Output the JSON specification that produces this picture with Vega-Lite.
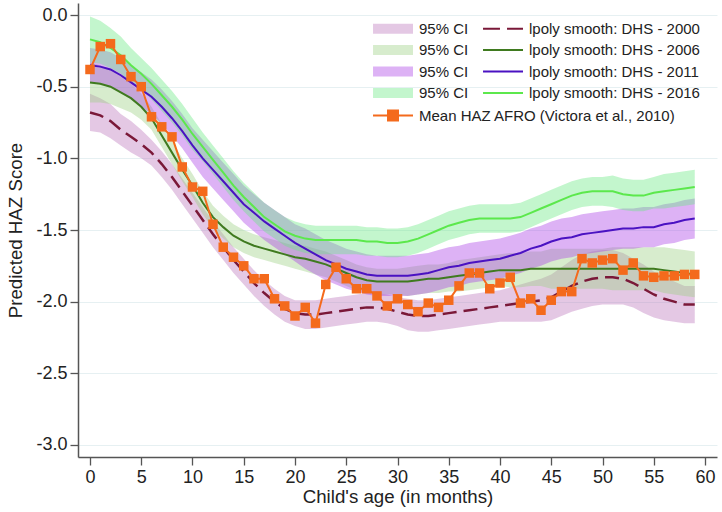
{
  "$schema": "https://vega.github.io/schema/vega-lite/v6.json",
  "width": 639,
  "height": 454,
  "autosize": {"type": "none"},
  "padding": {"left": 78, "top": 3, "right": 5, "bottom": 55},
  "background": "white",
  "config": {
    "font": "Liberation Sans",
    "view": {"stroke": null},
    "axis": {"labelFont": "Liberation Sans", "labelFontSize": 18, "labelColor": "#222", "titleFont": "Liberation Sans", "titleFontSize": 18.7, "titleFontWeight": "normal", "titleColor": "#222", "domainColor": "#555", "domainWidth": 1.5, "tickColor": "#555", "tickWidth": 1.3, "tickSize": 8, "labelPadding": 3, "gridColor": "#e6f0f2", "gridWidth": 1, "labelFlush": false, "labelOverlap": false},
    "axisX": {"grid": false, "titlePadding": 1},
    "axisY": {"grid": true, "titlePadding": 10}
  },
  "datasets": {
    "d2000": [
      {"age":0,"est":-0.68,"lo":-0.81,"hi":-0.55},{"age":1,"est":-0.70,"lo":-0.82,"hi":-0.58},{"age":2,"est":-0.74,"lo":-0.86,"hi":-0.62},{"age":3,"est":-0.80,"lo":-0.91,"hi":-0.69},{"age":4,"est":-0.85,"lo":-0.96,"hi":-0.74},{"age":5,"est":-0.90,"lo":-1.00,"hi":-0.80},{"age":6,"est":-0.96,"lo":-1.05,"hi":-0.87},{"age":7,"est":-1.04,"lo":-1.13,"hi":-0.95},{"age":8,"est":-1.13,"lo":-1.22,"hi":-1.04},{"age":9,"est":-1.23,"lo":-1.32,"hi":-1.14},
      {"age":10,"est":-1.33,"lo":-1.42,"hi":-1.24},{"age":11,"est":-1.43,"lo":-1.52,"hi":-1.34},{"age":12,"est":-1.53,"lo":-1.62,"hi":-1.44},{"age":13,"est":-1.62,"lo":-1.71,"hi":-1.53},{"age":14,"est":-1.71,"lo":-1.80,"hi":-1.62},{"age":15,"est":-1.79,"lo":-1.88,"hi":-1.70},{"age":16,"est":-1.87,"lo":-1.96,"hi":-1.78},{"age":17,"est":-1.94,"lo":-2.03,"hi":-1.85},{"age":18,"est":-2.00,"lo":-2.09,"hi":-1.91},{"age":19,"est":-2.05,"lo":-2.14,"hi":-1.96},
      {"age":20,"est":-2.08,"lo":-2.17,"hi":-1.99},{"age":21,"est":-2.09,"lo":-2.19,"hi":-1.99},{"age":22,"est":-2.09,"lo":-2.19,"hi":-1.99},{"age":23,"est":-2.08,"lo":-2.18,"hi":-1.98},{"age":24,"est":-2.07,"lo":-2.17,"hi":-1.97},{"age":25,"est":-2.06,"lo":-2.16,"hi":-1.96},{"age":26,"est":-2.05,"lo":-2.15,"hi":-1.95},{"age":27,"est":-2.04,"lo":-2.14,"hi":-1.94},{"age":28,"est":-2.04,"lo":-2.14,"hi":-1.94},{"age":29,"est":-2.05,"lo":-2.15,"hi":-1.95},
      {"age":30,"est":-2.07,"lo":-2.17,"hi":-1.97},{"age":31,"est":-2.09,"lo":-2.20,"hi":-1.98},{"age":32,"est":-2.10,"lo":-2.21,"hi":-1.99},{"age":33,"est":-2.10,"lo":-2.21,"hi":-1.99},{"age":34,"est":-2.09,"lo":-2.20,"hi":-1.98},{"age":35,"est":-2.08,"lo":-2.19,"hi":-1.97},{"age":36,"est":-2.07,"lo":-2.18,"hi":-1.96},{"age":37,"est":-2.06,"lo":-2.17,"hi":-1.95},{"age":38,"est":-2.05,"lo":-2.16,"hi":-1.94},{"age":39,"est":-2.04,"lo":-2.15,"hi":-1.93},
      {"age":40,"est":-2.03,"lo":-2.14,"hi":-1.92},{"age":41,"est":-2.02,"lo":-2.14,"hi":-1.90},{"age":42,"est":-2.01,"lo":-2.14,"hi":-1.88},{"age":43,"est":-2.00,"lo":-2.14,"hi":-1.86},{"age":44,"est":-1.99,"lo":-2.14,"hi":-1.84},{"age":45,"est":-1.97,"lo":-2.13,"hi":-1.81},{"age":46,"est":-1.93,"lo":-2.10,"hi":-1.76},{"age":47,"est":-1.89,"lo":-2.07,"hi":-1.71},{"age":48,"est":-1.86,"lo":-2.05,"hi":-1.67},{"age":49,"est":-1.84,"lo":-2.03,"hi":-1.65},
      {"age":50,"est":-1.83,"lo":-2.02,"hi":-1.64},{"age":51,"est":-1.83,"lo":-2.02,"hi":-1.64},{"age":52,"est":-1.84,"lo":-2.02,"hi":-1.66},{"age":53,"est":-1.87,"lo":-2.04,"hi":-1.70},{"age":54,"est":-1.91,"lo":-2.08,"hi":-1.74},{"age":55,"est":-1.95,"lo":-2.11,"hi":-1.79},{"age":56,"est":-1.98,"lo":-2.13,"hi":-1.83},{"age":57,"est":-2.00,"lo":-2.14,"hi":-1.86},{"age":58,"est":-2.02,"lo":-2.15,"hi":-1.89},{"age":59,"est":-2.02,"lo":-2.15,"hi":-1.89}
    ],
    "d2006": [
      {"age":0,"est":-0.47,"lo":-0.61,"hi":-0.33},{"age":1,"est":-0.48,"lo":-0.61,"hi":-0.35},{"age":2,"est":-0.50,"lo":-0.62,"hi":-0.38},{"age":3,"est":-0.54,"lo":-0.65,"hi":-0.43},{"age":4,"est":-0.58,"lo":-0.68,"hi":-0.48},{"age":5,"est":-0.64,"lo":-0.73,"hi":-0.55},{"age":6,"est":-0.72,"lo":-0.80,"hi":-0.64},{"age":7,"est":-0.84,"lo":-0.92,"hi":-0.76},{"age":8,"est":-0.96,"lo":-1.04,"hi":-0.88},{"age":9,"est":-1.08,"lo":-1.16,"hi":-1.00},
      {"age":10,"est":-1.19,"lo":-1.27,"hi":-1.11},{"age":11,"est":-1.31,"lo":-1.39,"hi":-1.23},{"age":12,"est":-1.41,"lo":-1.49,"hi":-1.33},{"age":13,"est":-1.48,"lo":-1.56,"hi":-1.40},{"age":14,"est":-1.54,"lo":-1.62,"hi":-1.46},{"age":15,"est":-1.58,"lo":-1.66,"hi":-1.50},{"age":16,"est":-1.61,"lo":-1.69,"hi":-1.53},{"age":17,"est":-1.63,"lo":-1.71,"hi":-1.55},{"age":18,"est":-1.65,"lo":-1.73,"hi":-1.57},{"age":19,"est":-1.67,"lo":-1.75,"hi":-1.59},
      {"age":20,"est":-1.69,"lo":-1.77,"hi":-1.61},{"age":21,"est":-1.70,"lo":-1.79,"hi":-1.61},{"age":22,"est":-1.72,"lo":-1.81,"hi":-1.63},{"age":23,"est":-1.74,"lo":-1.83,"hi":-1.65},{"age":24,"est":-1.77,"lo":-1.86,"hi":-1.68},{"age":25,"est":-1.80,"lo":-1.89,"hi":-1.71},{"age":26,"est":-1.83,"lo":-1.92,"hi":-1.74},{"age":27,"est":-1.85,"lo":-1.94,"hi":-1.76},{"age":28,"est":-1.86,"lo":-1.95,"hi":-1.77},{"age":29,"est":-1.86,"lo":-1.95,"hi":-1.77},
      {"age":30,"est":-1.86,"lo":-1.95,"hi":-1.77},{"age":31,"est":-1.86,"lo":-1.96,"hi":-1.76},{"age":32,"est":-1.85,"lo":-1.95,"hi":-1.75},{"age":33,"est":-1.84,"lo":-1.94,"hi":-1.74},{"age":34,"est":-1.84,"lo":-1.94,"hi":-1.74},{"age":35,"est":-1.83,"lo":-1.93,"hi":-1.73},{"age":36,"est":-1.82,"lo":-1.93,"hi":-1.71},{"age":37,"est":-1.81,"lo":-1.92,"hi":-1.70},{"age":38,"est":-1.80,"lo":-1.91,"hi":-1.69},{"age":39,"est":-1.79,"lo":-1.90,"hi":-1.68},
      {"age":40,"est":-1.78,"lo":-1.89,"hi":-1.67},{"age":41,"est":-1.78,"lo":-1.90,"hi":-1.66},{"age":42,"est":-1.78,"lo":-1.90,"hi":-1.66},{"age":43,"est":-1.77,"lo":-1.89,"hi":-1.65},{"age":44,"est":-1.77,"lo":-1.89,"hi":-1.65},{"age":45,"est":-1.77,"lo":-1.91,"hi":-1.63},{"age":46,"est":-1.77,"lo":-1.91,"hi":-1.63},{"age":47,"est":-1.77,"lo":-1.91,"hi":-1.63},{"age":48,"est":-1.77,"lo":-1.91,"hi":-1.63},{"age":49,"est":-1.77,"lo":-1.91,"hi":-1.63},
      {"age":50,"est":-1.77,"lo":-1.91,"hi":-1.63},{"age":51,"est":-1.77,"lo":-1.92,"hi":-1.62},{"age":52,"est":-1.77,"lo":-1.92,"hi":-1.62},{"age":53,"est":-1.77,"lo":-1.92,"hi":-1.62},{"age":54,"est":-1.77,"lo":-1.92,"hi":-1.62},{"age":55,"est":-1.77,"lo":-1.92,"hi":-1.62},{"age":56,"est":-1.78,"lo":-1.94,"hi":-1.62},{"age":57,"est":-1.79,"lo":-1.95,"hi":-1.63},{"age":58,"est":-1.80,"lo":-1.96,"hi":-1.64},{"age":59,"est":-1.81,"lo":-1.97,"hi":-1.65}
    ],
    "d2011": [
      {"age":0,"est":-0.35,"lo":-0.47,"hi":-0.23},{"age":1,"est":-0.36,"lo":-0.48,"hi":-0.24},{"age":2,"est":-0.38,"lo":-0.50,"hi":-0.26},{"age":3,"est":-0.42,"lo":-0.54,"hi":-0.30},{"age":4,"est":-0.47,"lo":-0.59,"hi":-0.35},{"age":5,"est":-0.52,"lo":-0.64,"hi":-0.40},{"age":6,"est":-0.57,"lo":-0.69,"hi":-0.45},{"age":7,"est":-0.64,"lo":-0.76,"hi":-0.52},{"age":8,"est":-0.72,"lo":-0.84,"hi":-0.60},{"age":9,"est":-0.81,"lo":-0.93,"hi":-0.69},
      {"age":10,"est":-0.91,"lo":-1.03,"hi":-0.79},{"age":11,"est":-1.00,"lo":-1.13,"hi":-0.87},{"age":12,"est":-1.08,"lo":-1.21,"hi":-0.95},{"age":13,"est":-1.16,"lo":-1.29,"hi":-1.03},{"age":14,"est":-1.24,"lo":-1.37,"hi":-1.11},{"age":15,"est":-1.32,"lo":-1.45,"hi":-1.19},{"age":16,"est":-1.38,"lo":-1.51,"hi":-1.25},{"age":17,"est":-1.44,"lo":-1.57,"hi":-1.31},{"age":18,"est":-1.49,"lo":-1.62,"hi":-1.36},{"age":19,"est":-1.54,"lo":-1.67,"hi":-1.41},
      {"age":20,"est":-1.59,"lo":-1.72,"hi":-1.46},{"age":21,"est":-1.63,"lo":-1.77,"hi":-1.49},{"age":22,"est":-1.67,"lo":-1.81,"hi":-1.53},{"age":23,"est":-1.71,"lo":-1.85,"hi":-1.57},{"age":24,"est":-1.74,"lo":-1.88,"hi":-1.60},{"age":25,"est":-1.77,"lo":-1.91,"hi":-1.63},{"age":26,"est":-1.79,"lo":-1.93,"hi":-1.65},{"age":27,"est":-1.81,"lo":-1.95,"hi":-1.67},{"age":28,"est":-1.82,"lo":-1.96,"hi":-1.68},{"age":29,"est":-1.82,"lo":-1.96,"hi":-1.68},
      {"age":30,"est":-1.82,"lo":-1.96,"hi":-1.68},{"age":31,"est":-1.82,"lo":-1.96,"hi":-1.68},{"age":32,"est":-1.81,"lo":-1.95,"hi":-1.67},{"age":33,"est":-1.80,"lo":-1.94,"hi":-1.66},{"age":34,"est":-1.78,"lo":-1.92,"hi":-1.64},{"age":35,"est":-1.76,"lo":-1.90,"hi":-1.62},{"age":36,"est":-1.75,"lo":-1.89,"hi":-1.61},{"age":37,"est":-1.73,"lo":-1.87,"hi":-1.59},{"age":38,"est":-1.72,"lo":-1.86,"hi":-1.58},{"age":39,"est":-1.71,"lo":-1.85,"hi":-1.57},
      {"age":40,"est":-1.70,"lo":-1.84,"hi":-1.56},{"age":41,"est":-1.68,"lo":-1.82,"hi":-1.54},{"age":42,"est":-1.66,"lo":-1.80,"hi":-1.52},{"age":43,"est":-1.63,"lo":-1.77,"hi":-1.49},{"age":44,"est":-1.61,"lo":-1.75,"hi":-1.47},{"age":45,"est":-1.58,"lo":-1.72,"hi":-1.44},{"age":46,"est":-1.56,"lo":-1.70,"hi":-1.42},{"age":47,"est":-1.55,"lo":-1.69,"hi":-1.41},{"age":48,"est":-1.53,"lo":-1.67,"hi":-1.39},{"age":49,"est":-1.52,"lo":-1.66,"hi":-1.38},
      {"age":50,"est":-1.51,"lo":-1.65,"hi":-1.37},{"age":51,"est":-1.50,"lo":-1.64,"hi":-1.36},{"age":52,"est":-1.49,"lo":-1.63,"hi":-1.35},{"age":53,"est":-1.49,"lo":-1.63,"hi":-1.35},{"age":54,"est":-1.48,"lo":-1.62,"hi":-1.34},{"age":55,"est":-1.48,"lo":-1.62,"hi":-1.34},{"age":56,"est":-1.46,"lo":-1.60,"hi":-1.32},{"age":57,"est":-1.45,"lo":-1.59,"hi":-1.31},{"age":58,"est":-1.43,"lo":-1.57,"hi":-1.29},{"age":59,"est":-1.42,"lo":-1.56,"hi":-1.28}
    ],
    "d2016": [
      {"age":0,"est":-0.17,"lo":-0.33,"hi":-0.01},{"age":1,"est":-0.19,"lo":-0.34,"hi":-0.04},{"age":2,"est":-0.23,"lo":-0.37,"hi":-0.09},{"age":3,"est":-0.28,"lo":-0.41,"hi":-0.15},{"age":4,"est":-0.35,"lo":-0.47,"hi":-0.23},{"age":5,"est":-0.41,"lo":-0.52,"hi":-0.30},{"age":6,"est":-0.48,"lo":-0.59,"hi":-0.37},{"age":7,"est":-0.56,"lo":-0.67,"hi":-0.45},{"age":8,"est":-0.64,"lo":-0.75,"hi":-0.53},{"age":9,"est":-0.73,"lo":-0.84,"hi":-0.62},
      {"age":10,"est":-0.83,"lo":-0.94,"hi":-0.72},{"age":11,"est":-0.92,"lo":-1.02,"hi":-0.82},{"age":12,"est":-1.01,"lo":-1.11,"hi":-0.91},{"age":13,"est":-1.10,"lo":-1.20,"hi":-1.00},{"age":14,"est":-1.19,"lo":-1.29,"hi":-1.09},{"age":15,"est":-1.27,"lo":-1.37,"hi":-1.17},{"age":16,"est":-1.34,"lo":-1.44,"hi":-1.24},{"age":17,"est":-1.41,"lo":-1.51,"hi":-1.31},{"age":18,"est":-1.46,"lo":-1.56,"hi":-1.36},{"age":19,"est":-1.51,"lo":-1.61,"hi":-1.41},
      {"age":20,"est":-1.54,"lo":-1.64,"hi":-1.44},{"age":21,"est":-1.56,"lo":-1.66,"hi":-1.46},{"age":22,"est":-1.57,"lo":-1.67,"hi":-1.47},{"age":23,"est":-1.57,"lo":-1.67,"hi":-1.47},{"age":24,"est":-1.57,"lo":-1.67,"hi":-1.47},{"age":25,"est":-1.57,"lo":-1.67,"hi":-1.47},{"age":26,"est":-1.57,"lo":-1.67,"hi":-1.47},{"age":27,"est":-1.58,"lo":-1.68,"hi":-1.48},{"age":28,"est":-1.58,"lo":-1.68,"hi":-1.48},{"age":29,"est":-1.59,"lo":-1.69,"hi":-1.49},
      {"age":30,"est":-1.59,"lo":-1.69,"hi":-1.49},{"age":31,"est":-1.58,"lo":-1.68,"hi":-1.48},{"age":32,"est":-1.56,"lo":-1.66,"hi":-1.46},{"age":33,"est":-1.53,"lo":-1.63,"hi":-1.43},{"age":34,"est":-1.50,"lo":-1.60,"hi":-1.40},{"age":35,"est":-1.47,"lo":-1.57,"hi":-1.37},{"age":36,"est":-1.45,"lo":-1.55,"hi":-1.35},{"age":37,"est":-1.43,"lo":-1.53,"hi":-1.33},{"age":38,"est":-1.42,"lo":-1.52,"hi":-1.32},{"age":39,"est":-1.42,"lo":-1.52,"hi":-1.32},
      {"age":40,"est":-1.42,"lo":-1.52,"hi":-1.32},{"age":41,"est":-1.42,"lo":-1.52,"hi":-1.32},{"age":42,"est":-1.41,"lo":-1.51,"hi":-1.31},{"age":43,"est":-1.38,"lo":-1.48,"hi":-1.28},{"age":44,"est":-1.35,"lo":-1.45,"hi":-1.25},{"age":45,"est":-1.32,"lo":-1.42,"hi":-1.22},{"age":46,"est":-1.29,"lo":-1.39,"hi":-1.19},{"age":47,"est":-1.26,"lo":-1.36,"hi":-1.16},{"age":48,"est":-1.24,"lo":-1.34,"hi":-1.14},{"age":49,"est":-1.23,"lo":-1.33,"hi":-1.13},
      {"age":50,"est":-1.23,"lo":-1.33,"hi":-1.13},{"age":51,"est":-1.23,"lo":-1.34,"hi":-1.12},{"age":52,"est":-1.25,"lo":-1.36,"hi":-1.14},{"age":53,"est":-1.26,"lo":-1.37,"hi":-1.15},{"age":54,"est":-1.26,"lo":-1.37,"hi":-1.15},{"age":55,"est":-1.24,"lo":-1.35,"hi":-1.13},{"age":56,"est":-1.23,"lo":-1.35,"hi":-1.11},{"age":57,"est":-1.22,"lo":-1.34,"hi":-1.10},{"age":58,"est":-1.21,"lo":-1.33,"hi":-1.09},{"age":59,"est":-1.20,"lo":-1.32,"hi":-1.08}
    ],
    "haz": [
      {"age":0,"est":-0.38},{"age":1,"est":-0.22},{"age":2,"est":-0.20},{"age":3,"est":-0.31},{"age":4,"est":-0.43},{"age":5,"est":-0.50},{"age":6,"est":-0.71},{"age":7,"est":-0.78},{"age":8,"est":-0.85},{"age":9,"est":-1.06},
      {"age":10,"est":-1.20},{"age":11,"est":-1.23},{"age":12,"est":-1.46},{"age":13,"est":-1.62},{"age":14,"est":-1.69},{"age":15,"est":-1.75},{"age":16,"est":-1.84},{"age":17,"est":-1.84},{"age":18,"est":-1.98},{"age":19,"est":-2.03},
      {"age":20,"est":-2.10},{"age":21,"est":-2.04},{"age":22,"est":-2.15},{"age":23,"est":-1.88},{"age":24,"est":-1.76},{"age":25,"est":-1.84},{"age":26,"est":-1.91},{"age":27,"est":-1.91},{"age":28,"est":-1.96},{"age":29,"est":-2.03},
      {"age":30,"est":-1.98},{"age":31,"est":-2.02},{"age":32,"est":-2.07},{"age":33,"est":-2.01},{"age":34,"est":-2.04},{"age":35,"est":-1.99},{"age":36,"est":-1.89},{"age":37,"est":-1.80},{"age":38,"est":-1.80},{"age":39,"est":-1.91},
      {"age":40,"est":-1.87},{"age":41,"est":-1.83},{"age":42,"est":-2.01},{"age":43,"est":-1.98},{"age":44,"est":-2.06},{"age":45,"est":-1.99},{"age":46,"est":-1.93},{"age":47,"est":-1.93},{"age":48,"est":-1.70},{"age":49,"est":-1.73},
      {"age":50,"est":-1.71},{"age":51,"est":-1.70},{"age":52,"est":-1.78},{"age":53,"est":-1.73},{"age":54,"est":-1.82},{"age":55,"est":-1.83},{"age":56,"est":-1.82},{"age":57,"est":-1.82},{"age":58,"est":-1.81},{"age":59,"est":-1.81}
    ]
  },
  "encoding": {
    "x": {"field": "age", "type": "quantitative", "scale": {"domain": [-1.17, 61.17], "nice": false, "zero": false}, "axis": {"values": [0,5,10,15,20,25,30,35,40,45,50,55,60], "title": "Child's age (in months)"}}
  },
  "layer": [
    {
      "data": {"name": "d2000"},
      "mark": {"type": "area", "fillOpacity": 0.4},
      "encoding": {
        "y": {"field": "lo", "type": "quantitative", "scale": {"domain": [-3.084, 0.084], "nice": false, "zero": false}, "axis": {"values": [-3,-2.5,-2,-1.5,-1,-0.5,0], "labelExpr": "replace(format(datum.value, '.1f'), '\u2212', '-')", "title": "Predicted HAZ Score"}},
        "y2": {"field": "hi"},
        "color": {
          "datum": "ci2000", "type": "nominal",
          "scale": {"domain": ["ci2000","ln2000","ci2006","ln2006","ci2011","ln2011","ci2016","ln2016"], "range": ["#bc76bc","#7a1838","#9bcf82","#3f7a1f","#aa3ee6","#4a12c2","#69e882","#5ce84c"]},
          "legend": {
            "title": null,
            "orient": "none",
            "legendX": 295,
            "legendY": 17,
            "direction": "horizontal",
            "padding": 0,
            "columns": 2,
            "columnPadding": 10,
            "rowPadding": 4.5,
            "symbolSize": 225,
            "labelOffset": 29,
            "labelFont": "Liberation Sans",
            "labelFontSize": 15,
            "labelColor": "#222",
            "labelLimit": 400,
            "labelExpr": "indexof(datum.value, 'ci') === 0 ? '95% CI' : 'lpoly smooth: DHS - ' + substring(datum.value, 2)",
            "encode": {
              "symbols": {
                "update": {
                  "shape": {"signal": "datum.value === 'ln2000' ? 'M-1.13,0H1.13M2.07,0H4.2' : indexof(datum.value, 'ci') === 0 ? 'M-1.13,-0.67H4.2V0.67H-1.13Z' : 'M-1.13,0H4.2'"},
                  "fillOpacity": {"signal": "indexof(datum.value, 'ci') === 0 ? 0.4 : 1"},
                  "strokeOpacity": {"signal": "indexof(datum.value, 'ci') === 0 ? 0 : 1"},
                  "strokeWidth": {"value": 2},
                  "opacity": {"value": 1}
                }
              }
            }
          }
        }
      }
    },
    {
      "data": {"name": "d2006"},
      "mark": {"type": "area", "fillOpacity": 0.4},
      "encoding": {
        "y": {"field": "lo", "type": "quantitative"},
        "y2": {"field": "hi"},
        "color": {"datum": "ci2006", "type": "nominal"}
      }
    },
    {
      "data": {"name": "d2011"},
      "mark": {"type": "area", "fillOpacity": 0.4},
      "encoding": {
        "y": {"field": "lo", "type": "quantitative"},
        "y2": {"field": "hi"},
        "color": {"datum": "ci2011", "type": "nominal"}
      }
    },
    {
      "data": {"name": "d2016"},
      "mark": {"type": "area", "fillOpacity": 0.4},
      "encoding": {
        "y": {"field": "lo", "type": "quantitative"},
        "y2": {"field": "hi"},
        "color": {"datum": "ci2016", "type": "nominal"}
      }
    },
    {
      "data": {"name": "d2000"},
      "mark": {"type": "line", "strokeWidth": 2.5, "strokeDash": [14, 7]},
      "encoding": {
        "y": {"field": "est", "type": "quantitative"},
        "color": {"datum": "ln2000", "type": "nominal"}
      }
    },
    {
      "data": {"name": "d2006"},
      "mark": {"type": "line", "strokeWidth": 2},
      "encoding": {
        "y": {"field": "est", "type": "quantitative"},
        "color": {"datum": "ln2006", "type": "nominal"}
      }
    },
    {
      "data": {"name": "d2011"},
      "mark": {"type": "line", "strokeWidth": 2},
      "encoding": {
        "y": {"field": "est", "type": "quantitative"},
        "color": {"datum": "ln2011", "type": "nominal"}
      }
    },
    {
      "data": {"name": "d2016"},
      "mark": {"type": "line", "strokeWidth": 2},
      "encoding": {
        "y": {"field": "est", "type": "quantitative"},
        "color": {"datum": "ln2016", "type": "nominal"}
      }
    },
    {
      "data": {"name": "haz"},
      "mark": {"type": "line", "strokeWidth": 2, "color": "#f46a1c"},
      "encoding": {
        "y": {"field": "est", "type": "quantitative"}
      }
    },
    {
      "data": {"name": "haz"},
      "mark": {"type": "point", "shape": "square", "size": 90, "filled": true, "opacity": 1},
      "encoding": {
        "y": {"field": "est", "type": "quantitative"},
        "fill": {
          "datum": "haz", "type": "nominal",
          "scale": {"domain": ["haz"], "range": ["#f46a1c"]},
          "legend": {
            "title": null,
            "orient": "none",
            "legendX": 295,
            "legendY": 104,
            "padding": 0,
            "symbolType": "M-1.13,0H4.2M0.87,-0.67H2.2V0.67H0.87Z",
            "symbolSize": 225,
            "symbolStrokeColor": "#f46a1c",
            "symbolStrokeWidth": 2,
            "symbolOpacity": 1,
            "labelOffset": 29,
            "labelFont": "Liberation Sans",
            "labelFontSize": 15,
            "labelColor": "#222",
            "labelLimit": 400,
            "labelExpr": "'Mean HAZ AFRO (Victora et al., 2010)'"
          }
        }
      }
    }
  ]
}
